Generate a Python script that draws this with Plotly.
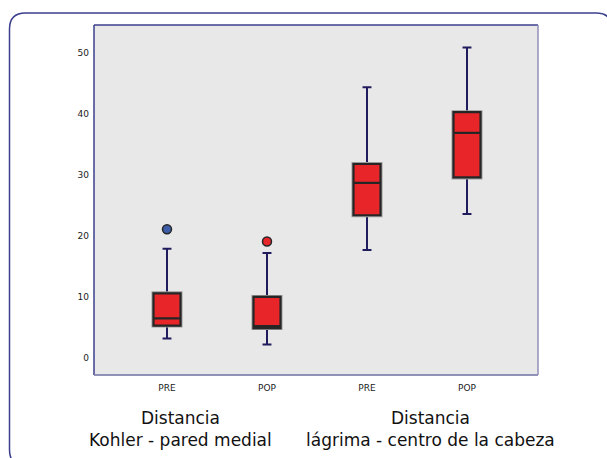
import plotly.graph_objects as go

# ---- data ----
categories = ["PRE", "POP", "PRE", "POP"]
cat_pos = [1, 2, 3, 4]
lower_whisker = [3.2, 2.2, 17.7, 23.6]
q1_values = [5.3, 4.9, 23.4, 29.6]
medians = [6.5, 5.2, 28.7, 36.9]
q3_values = [10.6, 10.0, 31.8, 40.3]
upper_whisker = [17.9, 17.2, 44.4, 50.9]
outlier_x = [1, 2]
outlier_y = [21.1, 19.1]
outlier_colors = ["#3d5da8", "#e8262a"]
y_ticks = [0, 10, 20, 30, 40, 50]
group_labels = [["Distancia", "Kohler - pared medial"],
                ["Distancia", "lágrima - centro de la cabeza"]]

W, H = 607, 458
L, R, T, B = 94, 69, 25, 83
PW, PH = W - L - R, H - T - B

def px(x):
    return (x - L) / PW

def py(y):
    return (T + PH - y) / PH

NAVY = "#1f1b5c"
FONT = "DejaVu Sans"

fig = go.Figure()

# whiskers (navy)
fig.add_trace(go.Box(
    x=cat_pos, q1=q1_values, median=medians, q3=q3_values,
    lowerfence=lower_whisker, upperfence=upper_whisker,
    width=0.27, whiskerwidth=0.33,
    line=dict(color=NAVY, width=2), fillcolor="rgba(0,0,0,0)",
    boxpoints=False, hoverinfo="skip", showlegend=False))

# gray halo around boxes
fig.add_trace(go.Box(
    x=cat_pos, q1=q1_values, median=medians, q3=q3_values,
    lowerfence=q1_values, upperfence=q3_values,
    width=0.27, whiskerwidth=0,
    line=dict(color="#9a9a9a", width=4), fillcolor="#e8262a",
    boxpoints=False, hoverinfo="skip", showlegend=False))

# boxes (red fill, dark outline)
fig.add_trace(go.Box(
    x=cat_pos, q1=q1_values, median=medians, q3=q3_values,
    lowerfence=q1_values, upperfence=q3_values,
    width=0.27, whiskerwidth=0,
    line=dict(color="#262626", width=2.2), fillcolor="#e8262a",
    boxpoints=False, showlegend=False))

# outliers
fig.add_trace(go.Scatter(
    x=outlier_x, y=outlier_y, mode="markers",
    marker=dict(size=9, color=outlier_colors,
                line=dict(color="#262626", width=1.5)),
    showlegend=False))

shapes = []
# plot-area borders
shapes.append(dict(type="line", xref="paper", yref="paper", x0=0, x1=0, y0=0, y1=1,
                   line=dict(color="#3b3f8c", width=1.5)))
shapes.append(dict(type="line", xref="paper", yref="paper", x0=0, x1=1, y0=1, y1=1,
                   line=dict(color="#3b3f8c", width=1.5)))
shapes.append(dict(type="line", xref="paper", yref="paper", x0=0, x1=1, y0=0, y1=0,
                   line=dict(color="#6f70a6", width=1.5)))
shapes.append(dict(type="line", xref="paper", yref="paper", x0=1, x1=1, y0=0, y1=1,
                   line=dict(color="#9090b8", width=1.5)))

# rounded outer frame
fx0, fx1, fy0, fy1, r = 9.5, 612, 13, 466, 16
path = (f"M {px(fx0)},{py(fy0 + r)} "
        f"Q {px(fx0)},{py(fy0)} {px(fx0 + r)},{py(fy0)} "
        f"L {px(fx1 - r)},{py(fy0)} "
        f"Q {px(fx1)},{py(fy0)} {px(fx1)},{py(fy0 + r)} "
        f"L {px(fx1)},{py(fy1 - r)} "
        f"Q {px(fx1)},{py(fy1)} {px(fx1 - r)},{py(fy1)} "
        f"L {px(fx0 + r)},{py(fy1)} "
        f"Q {px(fx0)},{py(fy1)} {px(fx0)},{py(fy1 - r)} Z")
shapes.append(dict(type="path", xref="paper", yref="paper", path=path,
                   line=dict(color="#3b3f8c", width=1.5), layer="below"))

annotations = []
for cx, lines in zip([180, 430], group_labels):
    for ly, txt in zip([418, 440], lines):
        annotations.append(dict(
            x=px(cx), y=py(ly), xref="paper", yref="paper", text=txt,
            showarrow=False, xanchor="center", yanchor="middle",
            font=dict(family=FONT, size=17, color="#111111")))

fig.update_layout(
    width=W, height=H,
    margin=dict(l=L, r=R, t=T, b=B, autoexpand=False),
    paper_bgcolor="white", plot_bgcolor="#e8e8e8",
    boxmode="overlay",
    shapes=shapes, annotations=annotations,
    xaxis=dict(range=[0.27, 4.71], tickvals=cat_pos, ticktext=categories,
               showgrid=False, zeroline=False, showline=False, ticks="",
               ticklabelstandoff=6,
               tickfont=dict(family=FONT, size=9, color="#222222"), fixedrange=True),
    yaxis=dict(range=[-2.8, 54.6], tickvals=y_ticks, showgrid=False, zeroline=False,
               showline=False, ticks="", ticklabelstandoff=4,
               tickfont=dict(family=FONT, size=9, color="#222222"), fixedrange=True),
    font=dict(family=FONT),
)

fig.write_html("out.html", config={"displayModeBar": False},
               post_script="document.body.style.margin='0';document.body.style.overflow='hidden';")
